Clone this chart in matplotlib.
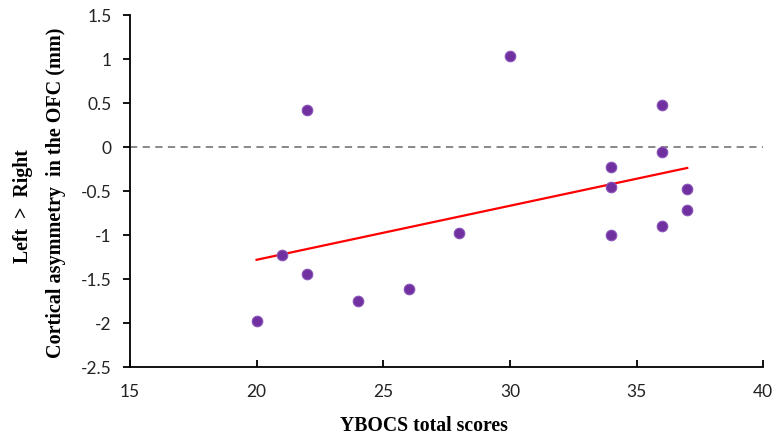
import matplotlib
matplotlib.use("Agg")
import matplotlib.pyplot as plt
import numpy as np

# YBOCS total scores vs cortical asymmetry in the OFC (mm)
ybocs = [20, 21, 22, 22, 24, 26, 28, 30, 34, 34, 34, 36, 36, 36, 37, 37]
asym = [-1.97, -1.22, 0.42, -1.44, -1.75, -1.61, -0.98, 1.03,
        -0.22, -0.45, -1.00, 0.48, -0.05, -0.90, -0.47, -0.71]

x_ticks = [15, 20, 25, 30, 35, 40]
y_ticks = [-2.5, -2, -1.5, -1, -0.5, 0, 0.5, 1, 1.5]
y_tick_labels = ["-2.5", "-2", "-1.5", "-1", "-0.5", "0", "0.5", "1", "1.5"]

x = np.array(ybocs)
y = np.array(asym)
slope, icept = np.polyfit(x, y, 1)
fit_x = np.array([x.min(), x.max()])

fig = plt.figure(figsize=(7.78, 4.43), dpi=100)
ax = fig.add_axes([0.167, 0.171, 0.814, 0.795])

ax.axhline(0, color="#7f7f7f", linestyle=(0, (4, 3)), linewidth=1.3, zorder=1)
ax.plot(fit_x, slope * fit_x + icept, color="#ff0000", linewidth=1.6, zorder=2)
ax.scatter(x, y, s=58, color="#7030a0", edgecolor="#8a55b8", linewidth=0.8, zorder=3)

ax.set_xlim(15, 40)
ax.set_ylim(-2.5, 1.5)
ax.set_xticks(x_ticks)
ax.set_yticks(y_ticks)
ax.set_yticklabels(y_tick_labels)

for s in ["top", "right"]:
    ax.spines[s].set_visible(False)
for s in ["left", "bottom"]:
    ax.spines[s].set_linewidth(1.3)
    ax.spines[s].set_color("black")

ax.tick_params(axis="x", direction="in", length=5, width=1.3, pad=12,
               labelsize=12.5, labelcolor="#222222")
ax.tick_params(axis="y", direction="out", length=5, width=1.3, pad=8,
               labelsize=12.5, labelcolor="#222222")
for lab in ax.get_xticklabels() + ax.get_yticklabels():
    lab.set_fontfamily("Lato")

fig.text(0.545, 0.038, "YBOCS total scores", ha="center", va="center",
         fontfamily="Liberation Serif", fontweight="bold", fontsize=14.2)

fig.text(0.030, 0.535, "Left  >  Right", rotation=90, ha="center", va="center",
         fontfamily="Liberation Serif", fontweight="bold", fontsize=14.2)
fig.text(0.072, 0.564, "Cortical asymmetry  in the OFC (mm)", rotation=90,
         ha="center", va="center", fontfamily="Liberation Serif",
         fontweight="bold", fontsize=14.5)

fig.savefig("out.png", dpi=100)
